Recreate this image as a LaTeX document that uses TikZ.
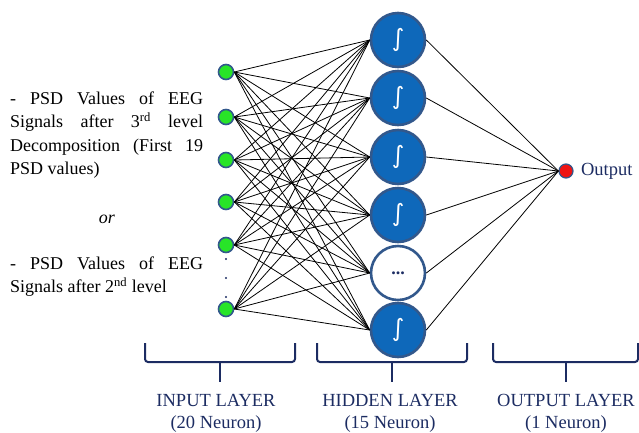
\documentclass[tikz,border=0pt]{standalone}
\usepackage{fontspec}
\setmainfont{Liberation Serif}
\newfontfamily\symfont{DejaVu Sans}
\usetikzlibrary{positioning}
\definecolor{hidblue}{RGB}{14,104,186}
\definecolor{rimblue}{RGB}{50,88,140}
\definecolor{navy}{RGB}{28,44,98}
\definecolor{nodegreen}{RGB}{40,228,40}
\definecolor{outred}{RGB}{238,20,20}

\begin{document}
\begin{tikzpicture}[x=1pt,y=-1pt,
  inp/.style={circle,draw=rimblue,fill=nodegreen,line width=1.6pt,minimum size=15pt,inner sep=0pt},
  hid/.style={circle,draw=rimblue,fill=hidblue,line width=2.6pt,minimum size=54pt,inner sep=0pt,
    text=white,font=\symfont\fontsize{24}{24}\selectfont},
  outn/.style={circle,draw=rimblue,fill=outred,line width=1.2pt,minimum size=14pt,inner sep=0pt},
  wire/.style={draw=black,line width=0.8pt},
  bracket/.style={draw=navy,line width=2pt,rounded corners=3pt},
  lbl/.style={text=navy,align=center,font=\fontsize{18.5}{22}\selectfont},
  desc/.style={text width=193pt,align=justify,inner sep=0pt,anchor=base west,
    font=\fontsize{18}{23.5}\selectfont}]
  \useasboundingbox (0,0) rectangle (639,432);
  % input layer, with the dots for the skipped neurons
  \foreach \i/\y in {1/72,2/117,3/160,4/202,5/245,6/309}
    \node[inp] (in\i) at (226,\y) {};
  \foreach \y in {259,278,297}
    \fill[navy] (226,\y) circle (1.1pt);
  % hidden layer
  \foreach \i/\y in {1/40,2/98,3/157,4/215,6/330}
    \node[hid] (h\i) at (398,\y) {∫};
  \node[hid,fill=white,text=navy,font=\fontsize{18}{18}\selectfont\bfseries] (h5) at (398,273) {...};
  % output neuron
  \node[outn] (out) at (566,171) {};
  \node[text=navy,font=\fontsize{18.5}{18.5}\selectfont,right=4pt of out] (outtxt) {Output};
  % connections
  \foreach \i in {1,...,6}
    \foreach \j in {1,...,6}
      \draw[wire] (in\i.east) -- (h\j.west);
  \foreach \j in {1,...,6}
    \draw[wire] (h\j.east) -- (out.west);
  % text on the left
  \node[desc] (d1) at (10,104) {- PSD Values of EEG\linebreak
    Signals after 3\textsuperscript{rd} level\linebreak
    Decomposition (First 19\linebreak PSD values)};
  \node[font=\fontsize{18}{18}\selectfont\itshape] (orw) at (107,219) {or};
  \node[desc] (d2) at (10,269) {- PSD Values of EEG\linebreak
    Signals after 2\textsuperscript{nd} level};
  % brackets and layer names
  \draw[bracket] (145,343) -- (145,362) -- (295,362) -- (295,343);
  \draw[bracket] (220,362) -- (220,382);
  \draw[bracket] (317,343) -- (317,362) -- (467,362) -- (467,343);
  \draw[bracket] (392,362) -- (392,382);
  \draw[bracket] (493,343) -- (493,362) -- (638,362) -- (638,343);
  \draw[bracket] (566,362) -- (566,382);
  \node[lbl,anchor=base] (inl) at (216,428) {INPUT LAYER\\(20 Neuron)};
  \node[lbl,anchor=base] (hidl) at (390,428) {HIDDEN LAYER\\(15 Neuron)};
  \node[lbl,anchor=base] (outl) at (566,428) {OUTPUT LAYER\\(1 Neuron)};
\end{tikzpicture}
\end{document}
